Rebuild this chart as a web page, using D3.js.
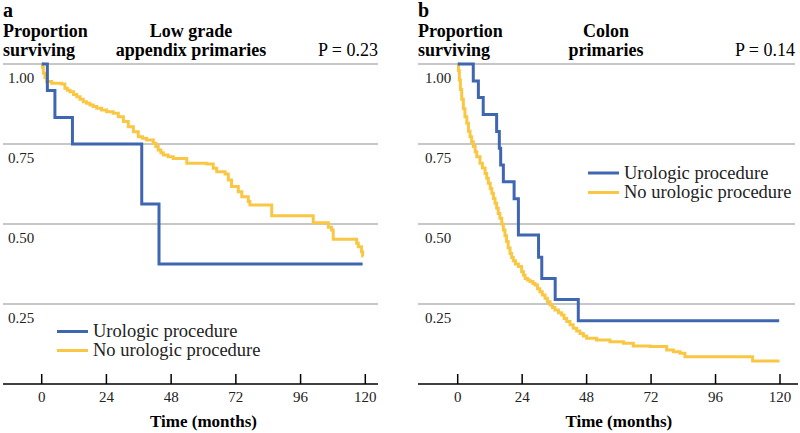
<!DOCTYPE html>
<html>
<head>
<meta charset="utf-8">
<script src="https://cdn.jsdelivr.net/npm/d3@7"></script>
<style>
  html, body { margin: 0; padding: 0; background: #fff; }
  svg text { font-family: "Liberation Serif", "Times New Roman", Times, "DejaVu Serif", "Noto Serif", serif; }
</style>
</head>
<body>
<svg id="chart" width="800" height="433"></svg>
<script>
// ---------- Data ----------
const months = [0, 24, 48, 72, 96, 120];
const survivalTicks = [0.25, 0.50, 0.75, 1.00];
const groups = ["Urologic procedure", "No urologic procedure"];

// Panel a: Low grade appendix primaries
const aUroTime = [0, 2.1, 4.9, 11.4, 37.1, 43.5, 119];
const aUroSurv = [1, 0.917, 0.833, 0.75, 0.5625, 0.375, 0.375];

const aNoTime = [0, 0.3, 0.6, 1.2, 1.85, 3.7, 7.4, 8.6, 9.5, 10.5, 11.8, 13.0, 14.2, 15.4, 16.6,
  17.9, 19.1, 20.4, 22.2, 24.1, 26.5, 28.4, 30.3, 32.1, 34.0, 35.8, 37.4, 38.9, 41.4, 42.3,
  43.2, 44.2, 45.1, 46.9, 48.8, 53.8, 61.2, 63.6, 64.9, 68.0, 69.2, 70.4, 72.9, 74.2, 76.6,
  77.2, 85.3, 100.7, 106.3, 107.5, 108.1, 116.8, 117.4, 118.6, 119.0, 119.3];
const aNoSurv = [1, 0.99, 0.971, 0.958, 0.945, 0.94, 0.9375, 0.924, 0.918, 0.913, 0.905, 0.898, 0.89, 0.882, 0.877,
  0.872, 0.867, 0.862, 0.856, 0.851, 0.846, 0.835, 0.82, 0.804, 0.788, 0.773, 0.768, 0.7625, 0.752, 0.742,
  0.731, 0.723, 0.716, 0.71, 0.705, 0.69, 0.6875, 0.674, 0.663, 0.656, 0.6375, 0.617, 0.601, 0.585, 0.57,
  0.559, 0.526, 0.504, 0.49, 0.481, 0.452, 0.44, 0.429, 0.413, 0.40, 0.40];

// Panel b: Colon primaries
const bUroTime = [0, 5.8, 7.7, 9.5, 14.5, 15.5, 16.0, 17.0, 21.0, 22.6, 30.1, 31.3, 36.3, 44.9, 119.7];
const bUroSurv = [1, 0.947, 0.895, 0.842, 0.789, 0.737, 0.684, 0.632, 0.579, 0.466, 0.396, 0.330, 0.264, 0.198, 0.198];

const bNoTime = [0, 0.3, 0.6, 1.0, 1.5, 2.1, 2.7, 3.4, 4.0, 4.6, 5.2, 5.8, 6.5, 7.1, 8.3, 9.2, 10.2, 10.8,
  11.4, 12.1, 12.7, 13.3, 13.9, 14.5, 15.1, 15.7, 16.4, 17.0, 17.6, 18.2, 18.8, 19.5, 20.1, 20.7, 21.5,
  22.6, 23.8, 24.5, 25.1, 26.0, 26.9, 28.0, 28.8, 29.7, 30.6, 31.5, 32.5, 33.4, 34.4, 35.3, 36.2, 37.5,
  38.7, 39.6, 40.6, 41.8, 43.0, 44.3, 45.5, 46.8, 48.0, 51.7, 56.7, 61.7, 65.4, 71.6, 77.8, 80.3, 82.8,
  84.6, 109.8, 119.8];
const bNoSurv = [1, 0.98, 0.95, 0.92, 0.89, 0.86, 0.835, 0.815, 0.79, 0.773, 0.757, 0.742, 0.726, 0.71, 0.69, 0.675, 0.658, 0.643,
  0.627, 0.611, 0.596, 0.58, 0.565, 0.549, 0.533, 0.518, 0.50, 0.481, 0.463, 0.445, 0.425, 0.408, 0.395, 0.385, 0.375,
  0.367, 0.351, 0.34, 0.330, 0.325, 0.320, 0.314, 0.309, 0.298, 0.288, 0.278, 0.268, 0.257, 0.247, 0.239, 0.231, 0.223,
  0.216, 0.205, 0.195, 0.185, 0.174, 0.166, 0.158, 0.15, 0.143, 0.1375, 0.132, 0.127, 0.119, 0.117, 0.106, 0.101, 0.096,
  0.0855, 0.072, 0.072];

// ---------- Drawing ----------
const BLUE = "#3f67b1";
const YELLOW = "#f9c744";
const GRID = "#b5b5b5";
const FONT = '"Liberation Serif", "Times New Roman", Times, "DejaVu Serif", "Noto Serif", serif';

const svg = d3.select("#chart");
svg.append("rect").attr("width", 800).attr("height", 433).attr("fill", "#fff");

const zip = (t, s) => t.map((v, i) => ({ t: v, s: s[i] }));

function panel(cfg) {
  const g = svg.append("g").attr("font-family", FONT);
  const x = d3.scaleLinear().domain([0, 120]).range(cfg.xRange);
  const y = d3.scaleLinear().domain([0, 1]).range([384, 64]);

  // gridlines
  g.selectAll("line.grid").data(survivalTicks).join("line")
    .attr("x1", cfg.left).attr("x2", cfg.gridRight)
    .attr("y1", d => y(d)).attr("y2", d => y(d))
    .attr("stroke", GRID).attr("stroke-width", 1.5);

  // y tick labels (below gridlines)
  g.selectAll("text.ytick").data(survivalTicks).join("text")
    .attr("x", cfg.yLabelX).attr("y", d => y(d) + 19)
    .attr("font-size", 15).attr("fill", "#222")
    .text(d => d3.format(".2f")(d));

  // x axis: ticks from the scale
  const axis = d3.axisBottom(x).tickValues(months).tickSize(0).tickPadding(0);
  const ax = g.append("g").attr("transform", "translate(0,384)").call(axis);
  ax.select(".domain").remove();
  ax.selectAll("text").remove();
  g.append("line").attr("x1", cfg.left).attr("x2", cfg.axisRight)
    .attr("y1", 384).attr("y2", 384).attr("stroke", "#000").attr("stroke-width", 1.5);
  g.selectAll("line.xtick").data(months).join("line")
    .attr("x1", d => x(d)).attr("x2", d => x(d)).attr("y1", 374).attr("y2", 384)
    .attr("stroke", "#000").attr("stroke-width", 1.5);
  g.selectAll("text.xtick").data(months).join("text")
    .attr("x", d => x(d)).attr("y", 402).attr("text-anchor", "middle")
    .attr("font-size", 15).attr("fill", "#222").text(d => d);
  g.append("text").attr("x", x(60)).attr("y", 427).attr("text-anchor", "middle")
    .attr("font-size", 17).attr("font-weight", "bold").text("Time (months)");

  // curves
  const line = d3.line().x(d => x(d.t)).y(d => y(d.s)).curve(d3.curveStepAfter);
  g.append("path").datum(zip(cfg.noT, cfg.noS)).attr("d", line)
    .attr("fill", "none").attr("stroke", YELLOW).attr("stroke-width", 3);
  g.append("path").datum(zip(cfg.uroT, cfg.uroS)).attr("d", line)
    .attr("fill", "none").attr("stroke", BLUE).attr("stroke-width", 3);

  // header texts
  g.append("text").attr("x", cfg.left).attr("y", 17).attr("font-size", 20)
    .attr("font-weight", "bold").text(cfg.letter);
  g.append("text").attr("x", cfg.left).attr("y", 37).attr("font-size", 18)
    .attr("font-weight", "bold").text("Proportion");
  g.append("text").attr("x", cfg.left).attr("y", 56).attr("font-size", 18)
    .attr("font-weight", "bold").text("surviving");
  cfg.title.forEach((t, i) => {
    g.append("text").attr("x", cfg.titleX).attr("y", 37 + i * 19).attr("text-anchor", "middle")
      .attr("font-size", 18).attr("font-weight", "bold").text(t);
  });
  g.append("text").attr("x", cfg.gridRight).attr("y", 56).attr("text-anchor", "end")
    .attr("font-size", 18).text(cfg.p);

  // legend
  const colors = [BLUE, YELLOW];
  groups.forEach((name, i) => {
    const ly = cfg.legend.y + i * cfg.legend.dy;
    g.append("line").attr("x1", cfg.legend.x).attr("x2", cfg.legend.x + 31)
      .attr("y1", ly).attr("y2", ly).attr("stroke", colors[i]).attr("stroke-width", 3);
    g.append("text").attr("x", cfg.legend.x + 36).attr("y", ly + 5.5)
      .attr("font-size", 18.5).attr("fill", "#222").text(name);
  });
}

panel({
  letter: "a", left: 3, gridRight: 378, axisRight: 378, xRange: [41.7, 365.3], yLabelX: 8,
  title: ["Low grade", "appendix primaries"], titleX: 191, p: "P = 0.23",
  uroT: aUroTime, uroS: aUroSurv, noT: aNoTime, noS: aNoSurv,
  legend: { x: 57, y: 331.5, dy: 19 }
});
panel({
  letter: "b", left: 418, gridRight: 795, axisRight: 798, xRange: [457.7, 780], yLabelX: 425,
  title: ["Colon", "primaries"], titleX: 606, p: "P = 0.14",
  uroT: bUroTime, uroS: bUroSurv, noT: bNoTime, noS: bNoSurv,
  legend: { x: 588, y: 173, dy: 19.5 }
});
</script>
</body>
</html>
